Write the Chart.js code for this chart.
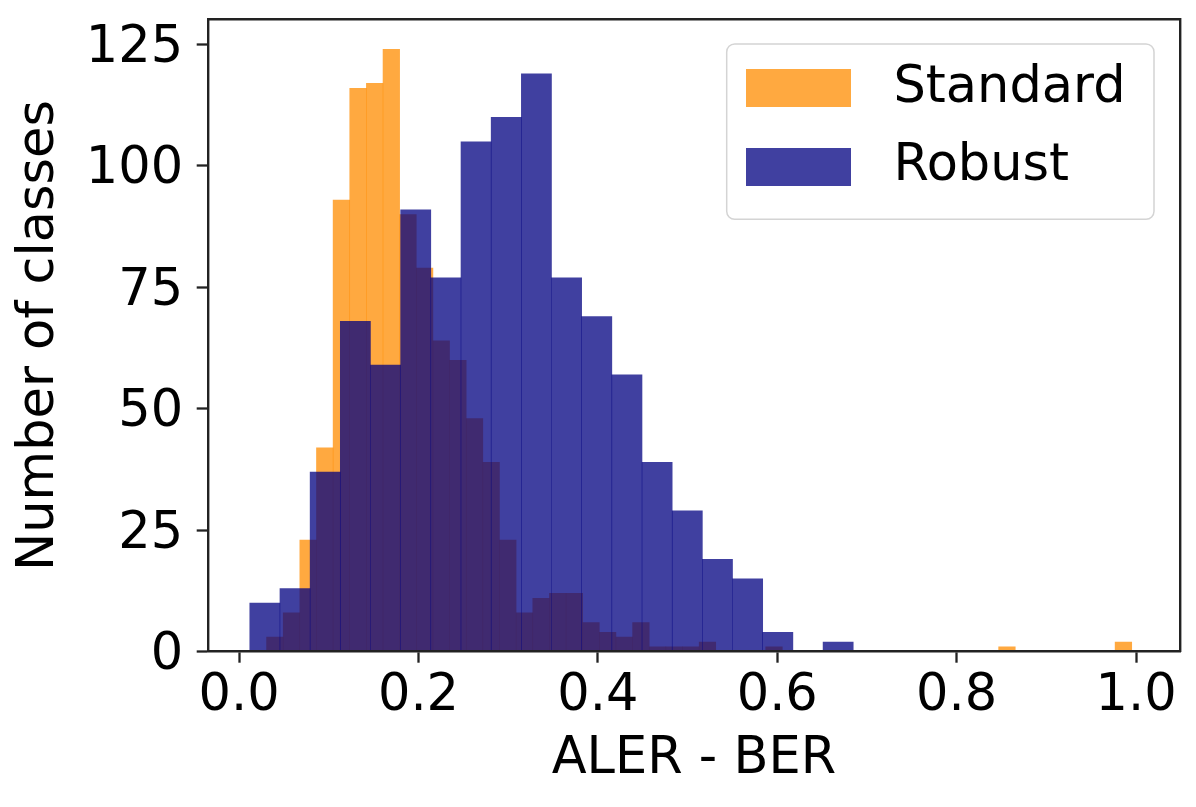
<!DOCTYPE html>
<html>
<head>
<meta charset="utf-8">
<script src="https://cdn.jsdelivr.net/npm/chart.js@4/dist/chart.umd.min.js"></script>
<style>
html, body { margin: 0; padding: 0; background: #ffffff; }
canvas { display: block; }
</style>
</head>
<body>
<canvas id="chart" width="1196" height="807"></canvas>
<script>
// ---------------- data ----------------
const seriesNames = ['Standard', 'Robust'];

// Standard histogram: 52 equal bins
const standardBinStart = 0.0306;
const standardBinWidth = 0.01855;
const standardCounts = [
  3, 8, 23, 42, 93, 116, 117, 124, 90, 79,
  64, 60, 48, 39, 23, 8, 11, 12, 12, 6,
  4, 3, 6, 1, 1, 1, 2, 0, 0, 0,
  1, 0, 0, 0, 0, 0, 0, 0, 0, 0,
  0, 0, 0, 0, 1, 0, 0, 0, 0, 0,
  0, 2
];

// Robust histogram: 20 equal bins
const robustBinStart = 0.0119;
const robustBinWidth = 0.03364;
const robustCounts = [
  10, 13, 37, 68, 59, 91, 77, 105, 110, 119,
  77, 69, 57, 39, 29, 19, 15, 4, 0, 2
];

const xTickValues = [0, 0.2, 0.4, 0.6, 0.8, 1.0];
const xTickLabels = ['0.0', '0.2', '0.4', '0.6', '0.8', '1.0'];
const yTickValues = [0, 25, 50, 75, 100, 125];
const yTickLabels = ['0', '25', '50', '75', '100', '125'];

const xTitle = 'ALER - BER';
const yTitle = 'Number of classes';

// axis limits (matplotlib-style 5% margins)
const xMin = -0.035;
const xMax = 1.049;
const yMin = 0;
const yMax = 130.2;

// ---------------- styles ----------------
const standardColor = 'rgba(255,140,0,0.75)';
const robustColor = 'rgba(0,0,128,0.75)';
const spineColor = '#222222';
const FONT_SIZE = 51;

Chart.defaults.font.family = "'DejaVu Sans', 'Liberation Sans', sans-serif";
Chart.defaults.color = '#000000';

function toBars(start, width, counts) {
  return counts.map((c, i) => ({ x: start + (i + 0.5) * width, y: c }));
}

function makeSwatch(color) {
  const c = document.createElement('canvas');
  c.width = 122;
  c.height = 38;
  const g = c.getContext('2d');
  g.fillStyle = color;
  g.fillRect(0, 0, 105, 38);
  return c;
}

function roundedRectPath(ctx, x, y, w, h, r) {
  ctx.beginPath();
  ctx.moveTo(x + r, y);
  ctx.lineTo(x + w - r, y);
  ctx.arcTo(x + w, y, x + w, y + r, r);
  ctx.lineTo(x + w, y + h - r);
  ctx.arcTo(x + w, y + h, x + w - r, y + h, r);
  ctx.lineTo(x + r, y + h);
  ctx.arcTo(x, y + h, x, y + h - r, r);
  ctx.lineTo(x, y + r);
  ctx.arcTo(x, y, x + r, y, r);
  ctx.closePath();
}

// place the legend inside the axes (upper right) and draw its frame
const legendPlacer = {
  id: 'legendPlacer',
  afterLayout(chart) {
    const L = chart.legend;
    const ca = chart.chartArea;
    if (!L) return;
    const w = L.width + 30;
    const h = L.height;
    L.left = ca.right - 461.5;
    L.right = L.left + w;
    L.top = ca.top + 16;
    L.bottom = L.top + h;
  },
  beforeDraw(chart) {
    const ca = chart.chartArea;
    const ctx = chart.ctx;
    const x0 = ca.right - 453.3, x1 = ca.right - 26;
    const y0 = ca.top + 24.7, y1 = ca.top + 200;
    ctx.save();
    roundedRectPath(ctx, x0, y0, x1 - x0, y1 - y0, 8);
    ctx.fillStyle = 'rgba(255,255,255,0.8)';
    ctx.fill();
    ctx.lineWidth = 1.5;
    ctx.strokeStyle = '#d4d4d4';
    ctx.stroke();
    ctx.restore();
  }
};

const spineBorder = { display: true, color: spineColor, width: 2.4, z: 1 };
const tickGrid = {
  display: true, drawOnChartArea: false, drawTicks: true,
  tickLength: 11, tickWidth: 2.3, tickColor: spineColor, offset: false
};

const cfg = {
  type: 'bar',
  data: {
    datasets: [
      {
        label: seriesNames[0],
        data: toBars(standardBinStart, standardBinWidth, standardCounts),
        xAxisID: 'x',
        yAxisID: 'y',
        backgroundColor: standardColor,
        borderWidth: 0,
        inflateAmount: 0.3,
        barPercentage: 1,
        categoryPercentage: 1,
        grouped: false,
        order: 1
      },
      {
        label: seriesNames[1],
        data: toBars(robustBinStart, robustBinWidth, robustCounts),
        xAxisID: 'xr',
        yAxisID: 'y',
        backgroundColor: robustColor,
        borderWidth: 0,
        inflateAmount: 0.3,
        barPercentage: 1,
        categoryPercentage: 1,
        grouped: false,
        order: 0
      }
    ]
  },
  options: {
    responsive: false,
    animation: false,
    devicePixelRatio: 1,
    layout: { padding: { top: 19.3, right: 16, bottom: 0, left: 0 } },
    plugins: {
      tooltip: { enabled: false },
      legend: {
        display: true,
        position: 'chartArea',
        align: 'start',
        labels: {
          font: { size: FONT_SIZE },
          color: '#000000',
          padding: 27.5,
          usePointStyle: true,
          pointStyleWidth: 122,
          boxHeight: 38,
          sort: (a, b) => a.datasetIndex - b.datasetIndex,
          generateLabels(chart) {
            const items = Chart.defaults.plugins.legend.labels.generateLabels(chart);
            items.forEach(it => { it.pointStyle = makeSwatch(it.fillStyle); });
            return items;
          }
        }
      }
    },
    scales: {
      x: {
        type: 'linear',
        position: 'bottom',
        min: xMin,
        max: xMax,
        offset: false,
        afterBuildTicks: s => { s.ticks = xTickValues.map(v => ({ value: v })); },
        afterFit: s => { s.height = 155.3; s.paddingLeft = 0; s.paddingRight = 0; },
        ticks: {
          font: { size: FONT_SIZE },
          color: '#000000',
          padding: 3,
          maxRotation: 0,
          minRotation: 0,
          autoSkip: false,
          callback: (v, i) => xTickLabels[i]
        },
        grid: tickGrid,
        border: spineBorder,
        title: {
          display: true,
          text: xTitle,
          font: { size: FONT_SIZE },
          color: '#000000',
          padding: { top: 0, bottom: 17 }
        }
      },
      xr: {
        type: 'linear',
        display: false,
        min: xMin,
        max: xMax,
        offset: false,
        afterBuildTicks: s => { s.ticks = xTickValues.map(v => ({ value: v })); }
      },
      xTop: {
        type: 'linear',
        position: 'top',
        display: true,
        min: xMin,
        max: xMax,
        offset: false,
        ticks: { display: false },
        grid: { display: false, drawTicks: false },
        border: spineBorder
      },
      y: {
        type: 'linear',
        position: 'left',
        min: yMin,
        max: yMax,
        afterBuildTicks: s => { s.ticks = yTickValues.map(v => ({ value: v })); },
        afterFit: s => { s.width = 207.7; s.paddingTop = 0; s.paddingBottom = 0; },
        ticks: {
          font: { size: FONT_SIZE },
          color: '#000000',
          padding: 13.5,
          labelOffset: 4,
          callback: (v, i) => yTickLabels[i]
        },
        grid: tickGrid,
        border: spineBorder,
        title: {
          display: true,
          text: yTitle,
          font: { size: FONT_SIZE },
          color: '#000000',
          padding: { top: 9.4, bottom: 0 }
        }
      },
      yRight: {
        type: 'linear',
        position: 'right',
        display: true,
        min: yMin,
        max: yMax,
        ticks: { display: false },
        grid: { display: false, drawTicks: false },
        border: spineBorder
      }
    }
  },
  plugins: [legendPlacer]
};

new Chart(document.getElementById('chart'), cfg);
</script>
</body>
</html>
